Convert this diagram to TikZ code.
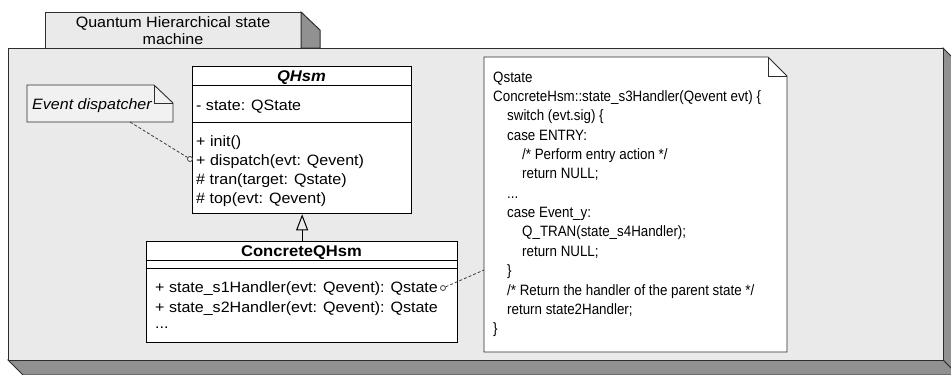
\documentclass[tikz,border=0pt]{standalone}
\usepackage{fontspec}
\setmainfont{Liberation Sans}
\newfontfamily\uifont[FakeStretch=1.07]{Liberation Sans}
\newfontfamily\codefont[FakeStretch=0.89]{Liberation Sans}
\usetikzlibrary{arrows.meta}
\definecolor{framefill}{RGB}{234,234,234}
\definecolor{sidefill}{RGB}{145,145,145}
\definecolor{edgecol}{RGB}{45,45,45}
\definecolor{notefill}{RGB}{241,241,241}
\definecolor{dashcol}{RGB}{60,60,60}
\begin{document}
\begin{tikzpicture}[x=1pt,y=-1pt,
  ui/.style={font=\uifont\fontsize{15}{17}\selectfont, inner sep=0pt, anchor=base west},
  uititle/.style={font=\uifont\fontsize{15.5}{17}\selectfont\bfseries, inner sep=0pt, anchor=base},
  code/.style={font=\codefont\fontsize{15}{17}\selectfont, inner sep=0pt, anchor=base west},
  frameline/.style={draw=edgecol, line width=1pt},
  classbox/.style={draw=black, fill=white, line width=1.3pt, inner sep=0pt, anchor=north west},
  classline/.style={draw=black, line width=1pt},
  noteline/.style={draw=edgecol, line width=0.9pt},
  dashconn/.style={draw=dashcol, line width=0.8pt, dash pattern=on 3pt off 2pt},
  portdot/.style={circle, draw=dashcol, fill=white, line width=0.8pt, inner sep=0pt, minimum size=5pt}
]
\useasboundingbox (0,0) rectangle (951,375);
\begin{scope}
\clip (0,0) rectangle (951,375);
% tab
\fill[framefill] (45,12) rectangle (301,48);
\draw[frameline] (45,48) -- (45,12) -- (301,12) -- (301,48);
\filldraw[fill=sidefill, frameline] (301,12) -- (320,30) -- (320,48) -- (301,48) -- cycle;
% main frame
\filldraw[fill=sidefill, frameline] (943,48) -- (958,63) -- (958,375) -- (943,360) -- cycle;
\filldraw[fill=sidefill, frameline] (8,360) -- (23,375) -- (958,375) -- (943,360) -- cycle;
\filldraw[fill=framefill, frameline] (8,48) rectangle (943,360);
\end{scope}
\node[ui, anchor=base] (tab1) at (173,27) {Quantum Hierarchical state};
\node[ui, anchor=base] (tab2) at (173,44) {machine};

% Event dispatcher note
\filldraw[fill=notefill, noteline] (27,85) -- (154,85) -- (173,103) -- (173,122) -- (27,122) -- cycle;
\draw[noteline] (154,85) -- (154,103) -- (173,103);
\node[ui, anchor=base west] (evtext) at (32,109) {\itshape Event dispatcher};
\coordinate (evfoot) at (130,122);

% QHsm class
\node[classbox, minimum width=219pt, minimum height=147pt] (qhsm) at (192,66) {};
\draw[classline] (192,85) -- (411,85);
\draw[classline] (192,122) -- (411,122);
\node[uititle] (qhsmtitle) at (301.5,81) {\itshape QHsm};
\node[ui] (qa1) at (196,110) {- state: QState};
\node[ui] (qm1) at (196,146) {+ init()};
\node[ui] (qm2) at (196,165) {+ dispatch(evt: Qevent)};
\node[ui] (qm3) at (196,184) {\# tran(target: Qstate)};
\node[ui] (qm4) at (196,203) {\# top(evt: Qevent)};

% ConcreteQHsm class
\node[classbox, minimum width=311pt, minimum height=101pt] (cqhsm) at (146,241) {};
\draw[classline] (146,260) -- (457,260);
\draw[classline] (146,268) -- (457,268);
\node[uititle] (cqtitle) at (301.5,256) {ConcreteQHsm};
\node[ui] (cm1) at (155,292) {+ state\_s1Handler(evt: Qevent): Qstate};
\node[ui] (cm2) at (155,312) {+ state\_s2Handler(evt: Qevent): Qstate};
\node[ui] (cm3) at (155,328) {...};

% generalization
\draw[line width=1pt, -{Triangle[open, length=16pt, width=12pt]}] (cqhsm.north) -- (qhsm.south);

% code note
\filldraw[fill=white, noteline] (484,57) -- (768,57) -- (787,76) -- (787,352) -- (484,352) -- cycle;
\draw[noteline] (768,57) -- (768,76) -- (787,76);
\coordinate (codeleft) at (484,270);
\node[code] (c0) at (493,82) {Qstate};
\node[code] (c1) at (493,101.4) {ConcreteHsm::state\_s3Handler(Qevent evt) \{};
\node[code] (c2) at (507,120.7) {switch (evt.sig) \{};
\node[code] (c3) at (507,140.1) {case ENTRY:};
\node[code] (c4) at (522,159.4) {/* Perform entry action */};
\node[code] (c5) at (522,178.8) {return NULL;};
\node[code] (c6) at (507,198.2) {...};
\node[code] (c7) at (507,217.5) {case Event\_y:};
\node[code] (c8) at (522,236.9) {Q\_TRAN(state\_s4Handler);};
\node[code] (c9) at (522,256.2) {return NULL;};
\node[code] (c10) at (507,275.6) {\}};
\node[code] (c11) at (507,295) {/* Return the handler of the parent state */};
\node[code] (c12) at (507,314.3) {return state2Handler;};
\node[code] (c13) at (493,333.7) {\}};

% connectors to notes
\node[portdot] (dispdot) at (190,159) {};
\draw[dashconn] (evfoot) -- (dispdot);
\node[portdot] (s1dot) at (443,288) {};
\draw[dashconn] (s1dot) -- (codeleft);
\end{tikzpicture}
\end{document}
